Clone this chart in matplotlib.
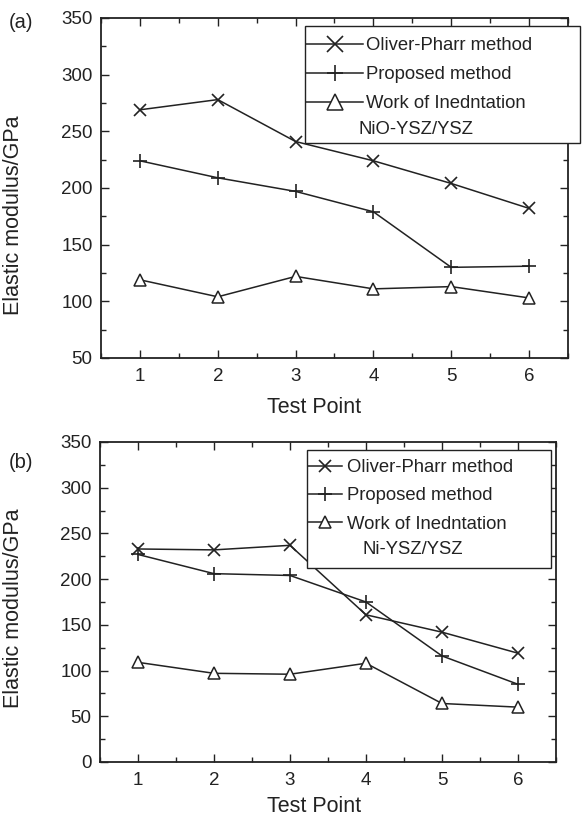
import matplotlib.pyplot as plt
from matplotlib.lines import Line2D
from matplotlib.patches import Rectangle
from matplotlib.ticker import MultipleLocator

plt.rcParams['font.family'] = ['Liberation Sans', 'DejaVu Sans']

# Data
test_points = [1, 2, 3, 4, 5, 6]

# (a) NiO-YSZ/YSZ
op_a = [269, 278, 241, 224, 204, 182]
prop_a = [224, 209, 197, 179, 130, 131]
work_a = [119, 104, 122, 111, 113, 103]

# (b) Ni-YSZ/YSZ
op_b = [233, 232, 237, 161, 142, 119]
prop_b = [227, 206, 204, 175, 116, 85]
work_b = [109, 97, 96, 108, 64, 60]

labels = ['Oliver-Pharr method', 'Proposed method', 'Work of Inedntation']

W, H = 583, 817
K = '#222222'


def fx(px):
    return px / W


def fy(py):
    return 1 - py / H


fig = plt.figure(figsize=(W / 100, H / 100), dpi=100)
ax1 = fig.add_axes([fx(101), fy(358), fx(568 - 101), (358 - 18) / H])
ax2 = fig.add_axes([fx(100), fy(762), fx(556 - 100), (762 - 442) / H])


def draw(ax, op, prop, work, ylim, xlab_y, ylab_y):
    ax.plot(test_points, op, color=K, lw=1.1, marker='x', ms=8, mew=1.2)
    ax.plot(test_points, prop, color=K, lw=1.1, marker='+', ms=10, mew=1.2)
    ax.plot(test_points, work, color=K, lw=1.1, marker='^', ms=8.5,
            mfc='white', mew=1.1)
    ax.set_xlim(0.5, 6.5)
    ax.set_ylim(*ylim)
    ax.set_xticks(test_points)
    ax.yaxis.set_major_locator(MultipleLocator(50))
    ax.xaxis.set_minor_locator(MultipleLocator(0.5))
    ax.yaxis.set_minor_locator(MultipleLocator(25))
    ax.tick_params(which='both', direction='in', top=True, right=True,
                   labelsize=13.5, colors=K)
    ax.tick_params(axis='x', pad=7)
    ax.tick_params(axis='y', pad=6)
    ax.tick_params(which='major', length=6, width=1)
    ax.tick_params(which='minor', length=3.5, width=1)
    for s in ax.spines.values():
        s.set_linewidth(1.3)
        s.set_color(K)
    ax.set_xlabel('Test Point', fontsize=15.5, color=K)
    ax.xaxis.set_label_coords(xlab_y[0], xlab_y[1])
    ax.set_ylabel('Elastic modulus/GPa', fontsize=15.5, color=K)
    ax.yaxis.set_label_coords(ylab_y[0], ylab_y[1])


def legend(box, first_row, hlen, tpad, ms, spacing, sample, sample_pos):
    x0, y0, x1, y1 = box
    fig.add_artist(Rectangle((fx(x0), fy(y1)), fx(x1 - x0), (y1 - y0) / H,
                             transform=fig.transFigure, fill=True, fc='white',
                             ec=K, lw=1.0, zorder=5))
    handles = [
        Line2D([], [], color=K, lw=1.1, marker='x', ms=ms, mew=1.2),
        Line2D([], [], color=K, lw=1.1, marker='+', ms=ms + 1, mew=1.2),
        Line2D([], [], color=K, lw=1.1, marker='^', ms=ms, mfc='white', mew=1.1),
    ]
    leg = fig.legend(handles, labels, loc='upper left',
                     bbox_to_anchor=(fx(x0 + 1), fy(first_row)),
                     bbox_transform=fig.transFigure, fontsize=13.3,
                     frameon=False, handlelength=hlen, handletextpad=tpad,
                     borderaxespad=0, borderpad=0, labelspacing=spacing)
    leg.set_zorder(6)
    for t in leg.get_texts():
        t.set_color(K)
    fig.text(fx(sample_pos[0]), fy(sample_pos[1]), sample, fontsize=13.3,
             color=K, ha='left', va='center', zorder=7)


draw(ax1, op_a, prop_a, work_a, (50, 350), (0.457, -0.115), (-0.165, 0.42))
draw(ax2, op_b, prop_b, work_b, (0, 350), (0.469, -0.106), (-0.167, 0.48))

legend((305, 26, 580, 143), 37, 3.1, 0.17, 11, 0.66, 'NiO-YSZ/YSZ', (359, 130))
legend((307, 450, 551, 568), 459, 1.85, 0.28, 9, 0.62, 'Ni-YSZ/YSZ', (362, 549))

fig.text(fx(21), fy(23), '(a)', fontsize=14.5, color=K, ha='center', va='center')
fig.text(fx(21), fy(462), '(b)', fontsize=14.5, color=K, ha='center', va='center')

fig.savefig('out.png', dpi=100)
